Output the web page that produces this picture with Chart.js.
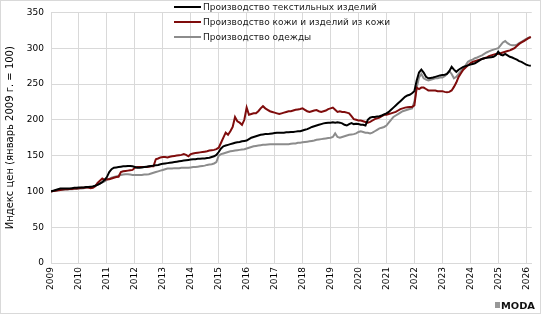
<!DOCTYPE html>
<html>
<head>
<meta charset="utf-8">
<script src="https://cdn.jsdelivr.net/npm/chart.js@4.4.1/dist/chart.umd.min.js"></script>
<style>
    html, body { margin: 0; padding: 0; background: #fff; }
    canvas { display: block; }
</style>
</head>
<body>
<canvas id="priceChart" width="541" height="314"></canvas>
<script>
// Monthly price indices, Jan 2009 = 100 (Jan 2009 .. Mar 2026)
const START_YEAR = 2009;

const textiles = [
    100, 101, 102, 103, 104, 104, 104, 104, 104, 104.5, 105, 105,           // 2009
    105.5, 105.5, 105.5, 106, 106, 106.5, 107, 108, 109, 111, 113, 116,     // 2010
    120, 127, 131, 133, 133.5, 134, 134.5, 135, 135, 135.5, 135.5, 135,     // 2011
    134, 133, 133, 133.5, 134, 134.5, 135, 135.5, 136, 136.5, 137, 138,     // 2012
    138.5, 139, 139.5, 140, 140.5, 141, 141.5, 142, 142.5, 143, 143.5, 144, // 2013
    144.5, 145, 145, 145.5, 145.5, 146, 146, 146.5, 147, 148, 149, 151,     // 2014
    155, 160, 163, 164, 165, 166, 167, 168, 168.5, 169, 170, 170.5,         // 2015
    171, 173, 175, 176, 177, 178, 179, 179.5, 180, 180, 180.5, 181,         // 2016
    181.5, 182, 182, 182, 182, 182.5, 182.5, 183, 183, 183.5, 184, 184,     // 2017
    185, 186, 187, 188.5, 190, 191, 192, 193, 194, 195, 195.5, 196,         // 2018
    196, 196.5, 196, 196.5, 196, 195, 193, 192, 194, 195.5, 194, 194.5,     // 2019
    194, 193, 193, 192, 200, 203, 204, 204, 204.5, 205, 206, 207.5,         // 2020
    209, 211, 214, 217, 220, 223, 226, 229, 232, 234, 235, 237,             // 2021
    240, 255, 266, 270, 266, 260, 258, 258.5, 259, 260, 261, 262,           // 2022
    262.5, 263, 264, 268, 274, 270, 267, 270, 272, 274, 275, 276,           // 2023
    277, 278, 279, 281, 283, 285, 286, 286.5, 287, 287.5, 288, 290,         // 2024
    295, 291, 290, 292, 290, 288, 287, 285.5, 284, 282, 281, 279,           // 2025
    277, 276, 275.5                                                         // 2026
];

const leather = [
    100, 100.5, 101, 101.5, 102, 102.5, 103, 103, 103.5, 103.5, 104, 104,   // 2009
    104.5, 105, 105, 105.5, 105.5, 104.5, 105, 107, 112, 115, 118, 116,     // 2010
    117, 117, 118, 119, 120, 120.5, 127, 128, 128.5, 129, 129.5, 130,       // 2011
    133, 134, 134, 134, 134, 134, 134.5, 135, 135, 145, 146, 147.5,         // 2012
    148, 148, 147.5, 148.5, 149, 149.5, 150, 150.5, 151, 152, 151, 149,     // 2013
    152, 153, 153.5, 154, 154.5, 155, 155.5, 156, 157, 157.5, 158, 159,     // 2014
    161, 168, 175, 182, 179, 184, 190, 204, 198, 196, 193, 200,             // 2015
    217, 207, 208, 209, 209, 212, 216, 219, 216, 214, 212, 211,             // 2016
    210, 209, 208, 209, 210, 211, 212, 212, 213, 214, 214.5, 215,           // 2017
    216, 214, 212, 211, 212, 213, 213.5, 212, 211, 212, 213, 215,           // 2018
    216, 217, 214, 211, 212, 211, 211, 210, 209, 205, 201, 200,             // 2019
    199, 199, 198, 197, 196, 197, 199, 201, 202, 203, 205, 207,             // 2020
    207, 208, 209, 210, 211, 213, 215, 216, 217, 217.5, 218, 218,           // 2021
    220, 245, 243, 245, 245, 243, 241, 241, 241, 241, 240, 240,             // 2022
    240, 239, 238.5, 239, 241, 246, 252, 260, 265, 270, 273, 276,           // 2023
    279, 281, 282, 283, 284, 285, 286, 287, 289, 290, 291, 292,             // 2024
    292, 293, 294, 295, 296, 297, 298.5, 300, 303, 306, 308, 310,           // 2025
    312, 314, 316                                                           // 2026
];

const clothing = [
    100, 100.5, 101, 101.5, 102, 102, 102.5, 102.5, 103, 103, 103.5, 103.5, // 2009
    104, 104, 104.5, 105, 105.5, 106, 107, 108, 109.5, 111, 112.5, 114,     // 2010
    116, 117.5, 119, 120, 121, 122, 123, 123.5, 124, 124, 123.5, 123,       // 2011
    123, 123, 123, 123, 123.5, 123.5, 124, 125, 126, 127, 128, 129,         // 2012
    130, 131, 132, 132, 132, 132.5, 132.5, 132.5, 133, 133, 133, 133,       // 2013
    133.5, 134, 134, 134.5, 135, 135.5, 136, 137, 137.5, 138, 139, 141,     // 2014
    150, 152, 153, 154, 155, 156, 156.5, 157, 157.5, 158, 158.5, 159,       // 2015
    160, 161, 162, 163, 163.5, 164, 164.5, 165, 165, 165.5, 166, 166,       // 2016
    166, 166, 166, 166, 166, 166, 166, 166.5, 167, 167, 168, 168,           // 2017
    168.5, 169, 169.5, 170, 170.5, 171, 172, 172.5, 173, 173.5, 174, 174.5, // 2018
    175, 176, 181, 176, 175, 176, 177, 178, 179, 179.5, 180, 181,           // 2019
    183, 184, 183, 182, 182, 181, 182, 184, 186, 188, 189, 190,             // 2020
    192, 196, 200, 204, 206, 208, 210, 212, 213, 214, 215, 216,             // 2021
    225, 245, 259, 264, 258, 256, 255, 256, 257, 258, 258, 259,             // 2022
    259, 261, 264, 268, 264, 258, 260, 264, 268, 272, 276, 281,             // 2023
    283, 284, 286, 287, 288.5, 290, 292, 294, 295.5, 297, 298, 299,         // 2024
    300, 304, 308, 310, 307, 305, 304, 304, 305, 307, 309, 311,             // 2025
    313, 314.5, 315                                                         // 2026
];

const seriesLabels = [
    'Производство текстильных изделий',
    'Производство кожи и изделий из кожи',
    'Производство одежды'
];
const yearTicks = [2009, 2010, 2011, 2012, 2013, 2014, 2015, 2016, 2017,
                   2018, 2019, 2020, 2021, 2022, 2023, 2024, 2025, 2026];
const valueTicks = [0, 50, 100, 150, 200, 250, 300, 350];

const FONT = '"DejaVu Sans", Verdana, sans-serif';
const GRID = '#d9d9d9';

function toPoints(values) {
    return values.map((v, i) => ({ x: START_YEAR + i / 12, y: v }));
}

// legend drawn inside the plot, plus frame and logo
const overlayPlugin = {
    id: 'overlay',
    afterDraw(chart) {
        const ctx = chart.ctx;
        ctx.save();

        ctx.strokeStyle = GRID;
        ctx.lineWidth = 1;
        ctx.strokeRect(0.5, 0.5, chart.width - 1, chart.height - 1);

        ctx.font = `9px ${FONT}`;
        ctx.textBaseline = 'middle';
        ctx.textAlign = 'left';
        chart.data.datasets.forEach((ds, i) => {
            const y = 7 + i * 15;
            ctx.strokeStyle = ds.borderColor;
            ctx.lineWidth = 2;
            ctx.beginPath();
            ctx.moveTo(174, y);
            ctx.lineTo(201, y);
            ctx.stroke();
            ctx.fillStyle = '#1a1a1a';
            ctx.fillText(ds.label, 203, y + 0.5);
        });

        // logo
        ctx.fillStyle = '#333';
        for (let k = 0; k < 3; k++) {
            ctx.fillRect(495, 302.5 + k * 2, 5, 1);
        }
        ctx.font = `bold 9px ${FONT}`;
        ctx.textBaseline = 'alphabetic';
        ctx.fillStyle = '#111';
        const w = ctx.measureText('MODA').width;
        ctx.translate(501, 308.5);
        ctx.scale(34 / w, 1);
        ctx.fillText('MODA', 0, 0);

        ctx.restore();
    }
};

const ctx = document.getElementById('priceChart').getContext('2d');
const colors = ['#000000', '#7f0c0c', '#8c8c8c'];

new Chart(ctx, {
    type: 'line',
    data: {
        datasets: [textiles, leather, clothing].map((vals, i) => ({
            label: seriesLabels[i],
            data: toPoints(vals),
            borderColor: colors[i],
            borderWidth: 2,
            pointRadius: 0,
            tension: 0,
            fill: false
        }))
    },
    options: {
        responsive: false,
        animation: false,
        layout: { padding: { top: 6, right: 3, left: 0, bottom: 0 } },
        plugins: {
            legend: { display: false },
            tooltip: { enabled: false }
        },
        scales: {
            x: {
                type: 'linear',
                min: 2009,
                max: 2026.2,
                afterBuildTicks: (s) => { s.ticks = yearTicks.map(v => ({ value: v })); },
                afterFit: (s) => { s.height = 51; },
                grid: { color: GRID, drawTicks: false },
                border: { color: GRID },
                ticks: {
                    minRotation: 90,
                    maxRotation: 90,
                    autoSkip: false,
                    padding: 4,
                    color: '#000',
                    font: { family: FONT, size: 9 },
                    callback: (v) => String(v)
                }
            },
            y: {
                min: 0,
                max: 350,
                afterBuildTicks: (s) => { s.ticks = valueTicks.map(v => ({ value: v })); },
                afterFit: (s) => { s.width = 51; },
                grid: { color: GRID, drawTicks: false },
                border: { color: GRID },
                ticks: {
                    padding: 7,
                    color: '#000',
                    font: { family: FONT, size: 9 },
                    callback: (v) => String(v)
                },
                title: {
                    display: true,
                    text: 'Индекс цен (январь 2009 г. = 100)',
                    color: '#000',
                    font: { family: FONT, size: 10 },
                    padding: { top: 4, bottom: 0 }
                }
            }
        }
    },
    plugins: [overlayPlugin]
});
</script>
</body>
</html>
